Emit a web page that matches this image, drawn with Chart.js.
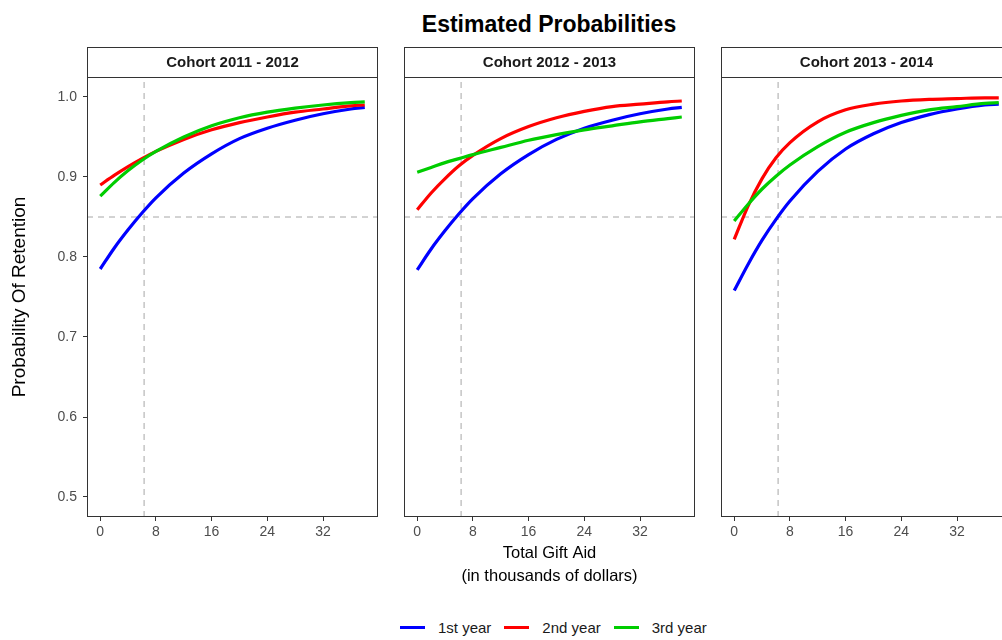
<!DOCTYPE html>
<html>
<head>
<meta charset="utf-8">
<script src="https://cdn.jsdelivr.net/npm/chart.js"></script>
<style>
  body { margin: 0; background: #fff; overflow: hidden; font-family: "Liberation Sans", Arial, sans-serif; }
  #wrap { position: relative; width: 1002px; height: 640px; overflow: hidden; }
  canvas.panel { position: absolute; top: 47px; }
  #title { position: absolute; left: 549px; top: 10px; transform: translateX(-50%); font-size: 23px; font-weight: bold; color: #000; white-space: nowrap; line-height: 28px; }
  #legend { position: absolute; left: 400px; top: 619px; display: flex; align-items: center; font-size: 15px; color: #1a1a1a; }
  #legend .key { width: 25px; height: 3px; margin-right: 13px; }
  #legend .lab { margin-right: 13px; }
</style>
</head>
<body>
<div id="wrap">
  <div id="title">Estimated Probabilities</div>
  <canvas id="p1" class="panel" width="378" height="553" style="left:0px"></canvas>
  <canvas id="p2" class="panel" width="291" height="553" style="left:404px"></canvas>
  <canvas id="p3" class="panel" width="291" height="553" style="left:721px"></canvas>
  <div id="legend"></div>
</div>
<script>
// --- data ---
const giftAid = [0, 2, 4, 6, 8, 12, 16, 20, 24, 28, 32, 36, 38];
const cohorts = ["Cohort 2011 - 2012", "Cohort 2012 - 2013", "Cohort 2013 - 2014"];
const seriesNames = ["1st year", "2nd year", "3rd year"];
const seriesColors = ["#0000ff", "#ff0000", "#00cd00"];

// Cohort 2011 - 2012
const c1First  = [0.785, 0.811, 0.834, 0.855, 0.874, 0.905, 0.929, 0.948, 0.961, 0.971, 0.979, 0.985, 0.987];
const c1Second = [0.890, 0.902, 0.913, 0.923, 0.932, 0.947, 0.959, 0.968, 0.975, 0.981, 0.985, 0.989, 0.990];
const c1Third  = [0.876, 0.893, 0.908, 0.921, 0.932, 0.950, 0.964, 0.974, 0.981, 0.986, 0.990, 0.993, 0.994];
// Cohort 2012 - 2013
const c2First  = [0.784, 0.810, 0.833, 0.854, 0.873, 0.904, 0.928, 0.947, 0.961, 0.971, 0.979, 0.985, 0.987];
const c2Second = [0.859, 0.880, 0.898, 0.914, 0.927, 0.948, 0.963, 0.974, 0.982, 0.988, 0.991, 0.994, 0.995];
const c2Third  = [0.906, 0.912, 0.918, 0.923, 0.928, 0.937, 0.946, 0.953, 0.959, 0.964, 0.969, 0.973, 0.975];
// Cohort 2013 - 2014
const c3First  = [0.758, 0.791, 0.821, 0.847, 0.870, 0.907, 0.935, 0.954, 0.968, 0.978, 0.985, 0.990, 0.991];
const c3Second = [0.822, 0.864, 0.898, 0.924, 0.943, 0.969, 0.984, 0.991, 0.995, 0.997, 0.998, 0.999, 0.999];
const c3Third  = [0.845, 0.866, 0.885, 0.901, 0.915, 0.938, 0.956, 0.968, 0.977, 0.984, 0.988, 0.992, 0.993];

const xTicks = [0, 8, 16, 24, 32];
const yTicks = [0.5, 0.6, 0.7, 0.8, 0.9, 1.0];
const aidCutoff = 6.3;         // vertical dashed reference
const retentionCutoff = 0.85;  // horizontal dashed reference

// axis limits (ggplot-style 5% expansion)
const xMin = -1.9, xMax = 39.9;
const yMin = 0.475, yMax = 1.025;

const FONT = '"Liberation Sans", Arial, sans-serif';
Chart.defaults.font.family = FONT;
Chart.defaults.color = "#4d4d4d";

// strip header + panel border, facet style
const facetStrip = {
  id: "facetStrip",
  afterDraw(chart, args, opts) {
    const { ctx, chartArea: a } = chart;
    const w = a.right - a.left;
    ctx.save();
    ctx.strokeStyle = "#333";
    ctx.lineWidth = 1;
    ctx.strokeRect(a.left + 0.5, 0.5, w - 1, a.top);
    ctx.strokeRect(a.left + 0.5, a.top + 0.5, w - 1, a.bottom - a.top - 1);
    ctx.fillStyle = "#1a1a1a";
    ctx.font = "bold 15px " + FONT;
    ctx.textAlign = "center";
    ctx.textBaseline = "middle";
    ctx.fillText(opts.text, a.left + w / 2, a.top / 2 + 1);
    ctx.restore();
  }
};

function makePanel(id, strip, rows, showY, showXTitle) {
  const datasets = rows.map((vals, i) => ({
    label: seriesNames[i],
    data: giftAid.map((x, j) => ({ x, y: vals[j] })),
    borderColor: seriesColors[i],
    borderWidth: 3.2,
    pointRadius: 0,
    cubicInterpolationMode: "monotone",
    order: 3 - i
  }));
  // dashed reference lines, drawn below the curves
  datasets.push({
    data: [{ x: aidCutoff, y: yMin }, { x: aidCutoff, y: yMax }],
    borderColor: "#a6a6a6", borderWidth: 1, borderDash: [6, 5], pointRadius: 0, order: 10
  });
  datasets.push({
    data: [{ x: xMin, y: retentionCutoff }, { x: xMax, y: retentionCutoff }],
    borderColor: "#a6a6a6", borderWidth: 1, borderDash: [6, 5], pointRadius: 0, order: 10
  });

  return new Chart(document.getElementById(id), {
    type: "line",
    data: { datasets },
    options: {
      responsive: false,
      animation: false,
      layout: { padding: { top: 30, left: 0, right: 0, bottom: 0 } },
      plugins: {
        legend: { display: false },
        tooltip: { enabled: false },
        facetStrip: { text: strip }
      },
      scales: {
        x: {
          type: "linear",
          min: xMin, max: xMax,
          afterBuildTicks: s => { s.ticks = xTicks.map(v => ({ value: v })); },
          afterFit: s => { s.height = 83; },
          grid: { drawOnChartArea: false, drawTicks: true, tickLength: 4, color: "#333" },
          border: { display: false },
          ticks: { autoSkip: false, maxRotation: 0, padding: 3, font: { size: 14 }, color: "#4d4d4d" },
          title: {
            display: showXTitle,
            text: ["Total Gift Aid", "(in thousands of dollars)"],
            color: "#000",
            font: { size: 16.5, lineHeight: 1.4 },
            padding: { top: 0, bottom: 12 }
          }
        },
        y: {
          type: "linear",
          display: showY,
          min: yMin, max: yMax,
          afterBuildTicks: s => { s.ticks = yTicks.map(v => ({ value: v })); },
          afterFit: s => { s.width = showY ? 87 : 0; },
          grid: { drawOnChartArea: false, drawTicks: true, tickLength: 4, color: "#333" },
          border: { display: false },
          ticks: { padding: 6, font: { size: 14 }, color: "#4d4d4d", callback: v => v.toFixed(1) },
          title: {
            display: true,
            text: "Probability Of Retention",
            color: "#000",
            font: { size: 19, lineHeight: 1.2 },
            padding: { top: 8, bottom: 0 }
          }
        }
      }
    },
    plugins: [facetStrip]
  });
}

makePanel("p1", cohorts[0], [c1First, c1Second, c1Third], true, false);
makePanel("p2", cohorts[1], [c2First, c2Second, c2Third], false, true);
makePanel("p3", cohorts[2], [c3First, c3Second, c3Third], false, false);

// legend along the bottom
const legend = document.getElementById("legend");
seriesNames.forEach((name, i) => {
  const key = document.createElement("span");
  key.className = "key";
  key.style.background = seriesColors[i];
  const lab = document.createElement("span");
  lab.className = "lab";
  lab.textContent = name;
  legend.append(key, lab);
});
</script>
</body>
</html>
